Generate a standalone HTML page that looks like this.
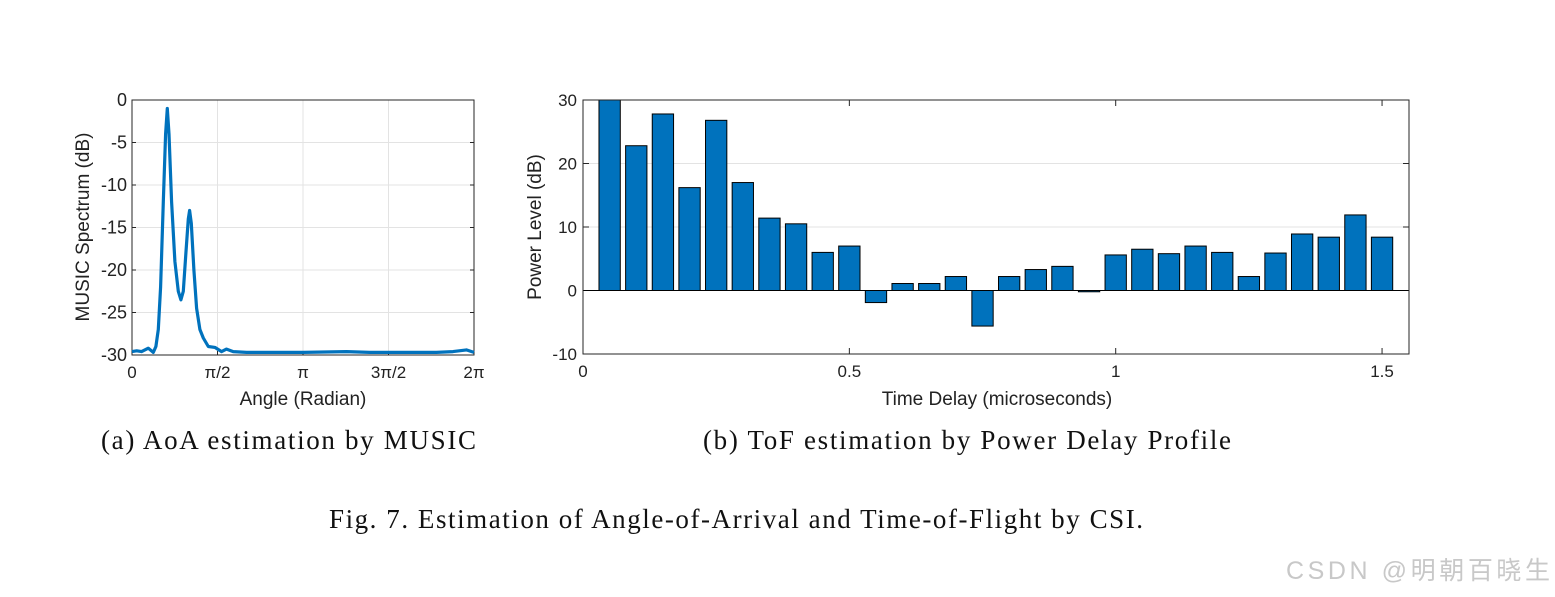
<!DOCTYPE html>
<html><head><meta charset="utf-8"><style>
body{margin:0;background:#fff;width:1555px;height:597px;overflow:hidden;position:relative}
svg{position:absolute;left:0;top:0}
</style></head><body>
<svg id="fig" width="1555" height="597" font-family="Liberation Sans, sans-serif">
<g id="left"></g>
<g id="right"></g>
<text x="101" y="449" font-family="Liberation Serif, serif" font-size="27" textLength="375" lengthAdjust="spacing" fill="#111">(a) AoA estimation by MUSIC</text>
<text x="703" y="449" font-family="Liberation Serif, serif" font-size="27" textLength="528" lengthAdjust="spacing" fill="#111">(b) ToF estimation by Power Delay Profile</text>
<text x="329" y="528" font-family="Liberation Serif, serif" font-size="27" textLength="814" lengthAdjust="spacing" fill="#111">Fig. 7.  Estimation of Angle-of-Arrival and Time-of-Flight by CSI.</text>
<text x="1286" y="579" font-family="Liberation Sans, 'Noto Sans CJK SC', sans-serif" font-size="25" textLength="264" lengthAdjust="spacing" fill="#c8c8c8">CSDN @明朝百晓生</text>
</svg>
<script>
const angles=[0,0.086,0.177,0.300,0.392,0.44,0.483,0.526,0.575,0.618,0.649,0.679,0.728,0.789,0.850,0.899,0.942,0.991,1.034,1.058,1.089,1.138,1.187,1.248,1.309,1.401,1.523,1.646,1.737,1.860,2.105,2.533,3.145,3.940,4.368,4.980,5.592,5.898,6.143,6.283];
const spectrum=[-29.6,-29.5,-29.6,-29.2,-29.7,-29.0,-27,-22,-12,-4,-1,-4,-12,-19,-22.5,-23.5,-22.5,-18,-14,-13,-14.5,-20,-24.5,-27,-28,-29,-29.1,-29.6,-29.3,-29.6,-29.7,-29.7,-29.7,-29.6,-29.7,-29.7,-29.7,-29.6,-29.4,-29.7];
const leftYTicks=[0,-5,-10,-15,-20,-25,-30];
const leftXTicks=[0,Math.PI/2,Math.PI,3*Math.PI/2,2*Math.PI];
const leftXLabels=["0","π/2","π","3π/2","2π"];
const delays=[0.05,0.1,0.15,0.2,0.25,0.3,0.35,0.4,0.45,0.5,0.55,0.6,0.65,0.7,0.75,0.8,0.85,0.9,0.95,1.0,1.05,1.1,1.15,1.2,1.25,1.3,1.35,1.4,1.45,1.5];
const power=[30.5,22.8,27.8,16.2,26.8,17,11.4,10.5,6,7,-1.9,1.1,1.1,2.2,-5.6,2.2,3.3,3.8,-0.2,5.6,6.5,5.8,7,6,2.2,5.9,8.9,8.4,11.9,8.4];
const rightYTicks=[30,20,10,0,-10];
const rightXTicks=[0,0.5,1,1.5];
const rightXLabels=["0","0.5","1","1.5"];
const NS="http://www.w3.org/2000/svg";
function mk(p,tag,a,t){const e=document.createElementNS(NS,tag);for(const k in a)e.setAttribute(k,a[k]);if(t!==undefined)e.textContent=t;p.appendChild(e);return e;}
(function(){
const g=document.getElementById('left');const L=132,R=474,T=100,B=355;
const xs=v=>L+v/(2*Math.PI)*(R-L), ys=v=>T+(0-v)/30*(B-T);
leftXTicks.forEach((v,i)=>{
 const l=mk(g,'line',{x1:xs(v),x2:xs(v),y1:T,y2:B,stroke:'#e3e3e3'});
 
 
 const t=mk(g,'text',{x:xs(v),y:B+23,'font-size':17,'text-anchor':'middle',fill:'#222'},leftXLabels[i]);
 
 
 mk(g,'line',{x1:xs(v),x2:xs(v),y1:B,y2:B-4,stroke:'#262626'});
});
leftYTicks.forEach(v=>{
 const l=mk(g,'line',{x1:L,x2:R,y1:ys(v),y2:ys(v),stroke:'#e3e3e3'});
 
 
 const t=mk(g,'text',{x:L-5,y:ys(v)+6,'font-size':18,'text-anchor':'end',fill:'#222'},String(v));
 
 
 mk(g,'line',{x1:L,x2:L+4,y1:ys(v),y2:ys(v),stroke:'#262626'});
 mk(g,'line',{x1:R,x2:R-4,y1:ys(v),y2:ys(v),stroke:'#262626'});
});
const b=mk(g,'rect',{x:L,y:T,width:R-L,height:B-T,fill:'none',stroke:'#262626'});


const pts=angles.map((a,i)=>xs(a).toFixed(1)+','+ys(spectrum[i]).toFixed(1)).join(' ');
const pl=mk(g,'polyline',{points:pts,fill:'none',stroke:'#0072BD','stroke-width':3.2,'stroke-linejoin':'round'});


const xt=mk(g,'text',{x:(L+R)/2,y:405,'font-size':19,'text-anchor':'middle',fill:'#222'},'Angle (Radian)');


const yt=mk(g,'text',{x:0,y:0,'font-size':19,'text-anchor':'middle',fill:'#222',transform:'translate(89,227) rotate(-90)'},'MUSIC Spectrum (dB)');


})();
(function(){
const g=document.getElementById('right');const L=583,R=1409,T=100,B=354;
const xs=v=>L+v*532.7, ys=v=>T+(30-v)/40*(B-T);
mk(g,'defs',{}).innerHTML='<clipPath id="rc"><rect x="'+L+'" y="'+T+'" width="'+(R-L)+'" height="'+(B-T)+'"/></clipPath>';
rightYTicks.forEach(v=>{
 const l=mk(g,'line',{x1:L,x2:R,y1:ys(v),y2:ys(v),stroke:'#e3e3e3'});
 
 
 const t=mk(g,'text',{x:L-6,y:ys(v)+6,'font-size':17,'text-anchor':'end',fill:'#222'},String(v));
 
 
 mk(g,'line',{x1:L,x2:L+6,y1:ys(v),y2:ys(v),stroke:'#262626'});
 mk(g,'line',{x1:R,x2:R-6,y1:ys(v),y2:ys(v),stroke:'#262626'});
});
rightXTicks.forEach((v,i)=>{
 const t=mk(g,'text',{x:xs(v),y:B+23,'font-size':17,'text-anchor':'middle',fill:'#222'},rightXLabels[i]);
 
 
 mk(g,'line',{x1:xs(v),x2:xs(v),y1:B,y2:B-6,stroke:'#262626'});
 mk(g,'line',{x1:xs(v),x2:xs(v),y1:T,y2:T+6,stroke:'#262626'});
});
const bg=mk(g,'g',{'clip-path':'url(#rc)'});
const bw=0.04*532.7;
delays.forEach((d,i)=>{
 const v=power[i];const y0=ys(0),y1=ys(v);
 const r=mk(bg,'rect',{x:xs(d)-bw/2,y:Math.min(y0,y1),width:bw,height:Math.max(Math.abs(y1-y0),0.8),fill:'#0072BD',stroke:'#000','stroke-width':1});
 
 
});
mk(g,'line',{x1:L,x2:R,y1:ys(0),y2:ys(0),stroke:'#000'});
const b=mk(g,'rect',{x:L,y:T,width:R-L,height:B-T,fill:'none',stroke:'#262626'});


const xt=mk(g,'text',{x:997,y:405,'font-size':19,'text-anchor':'middle',fill:'#222'},'Time Delay (microseconds)');


const yt=mk(g,'text',{x:0,y:0,'font-size':19,'text-anchor':'middle',fill:'#222',transform:'translate(541,227) rotate(-90)'},'Power Level (dB)');


})();
</script>
</body></html>
